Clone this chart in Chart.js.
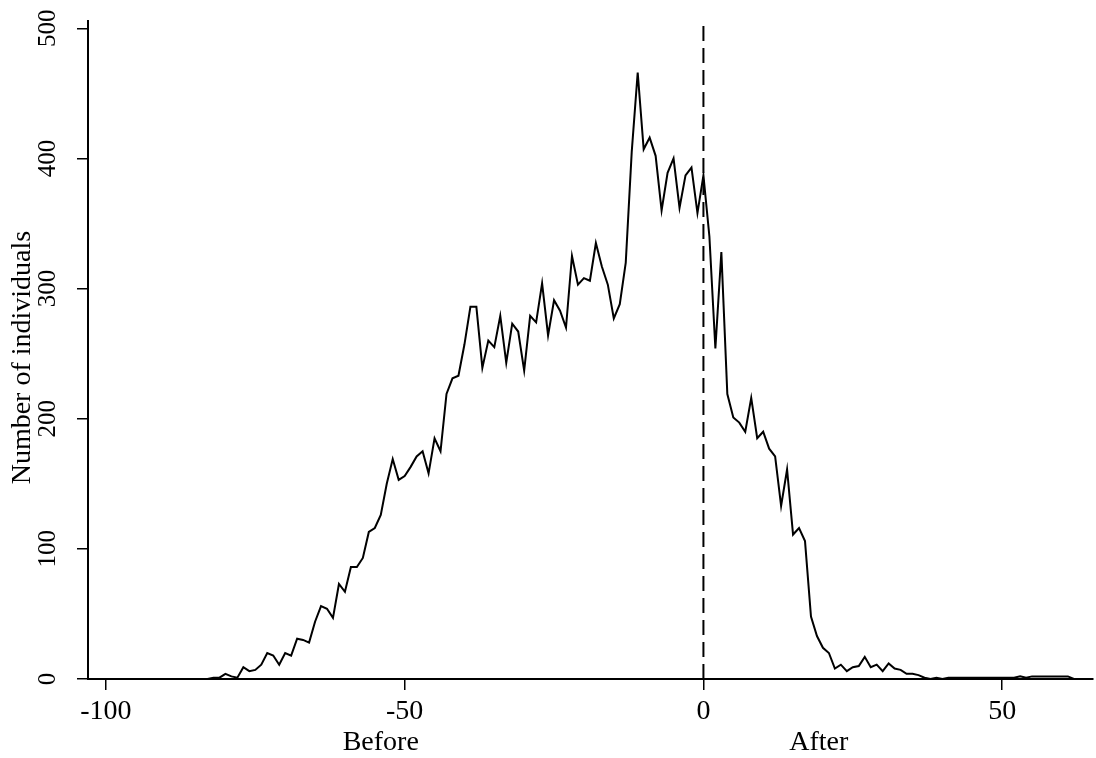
<!DOCTYPE html>
<html>
<head>
<meta charset="utf-8">
<script src="https://cdn.jsdelivr.net/npm/chart.js@4/dist/chart.umd.min.js"></script>
<style>
    html, body { margin: 0; padding: 0; background: #fff; }
    #wrap { width: 1096px; height: 758px; position: relative; }
</style>
</head>
<body>
<div id="wrap"><canvas id="countChart"></canvas></div>
<script>
// Days relative to the event
const days = [
    -95, -94, -93, -92, -91, -90, -89, -88, -87, -86,
    -85, -84, -83, -82, -81, -80, -79, -78, -77, -76,
    -75, -74, -73, -72, -71, -70, -69, -68, -67, -66,
    -65, -64, -63, -62, -61, -60, -59, -58, -57, -56,
    -55, -54, -53, -52, -51, -50, -49, -48, -47, -46,
    -45, -44, -43, -42, -41, -40, -39, -38, -37, -36,
    -35, -34, -33, -32, -31, -30, -29, -28, -27, -26,
    -25, -24, -23, -22, -21, -20, -19, -18, -17, -16,
    -15, -14, -13, -12, -11, -10, -9, -8, -7, -6,
    -5, -4, -3, -2, -1, 0, 1, 2, 3, 4,
    5, 6, 7, 8, 9, 10, 11, 12, 13, 14,
    15, 16, 17, 18, 19, 20, 21, 22, 23, 24,
    25, 26, 27, 28, 29, 30, 31, 32, 33, 34,
    35, 36, 37, 38, 39, 40, 41, 42, 43, 44,
    45, 46, 47, 48, 49, 50, 51, 52, 53, 54,
    55, 56, 57, 58, 59, 60, 61, 62
];

// Number of individuals per day
const counts = [
    0, 0, 0, 0, 0, 0, 0, 0, 0, 0,
    0, 0, 0, 1, 1, 4, 2, 1, 9, 6,
    7, 11, 20, 18, 11, 20, 18, 31, 30, 28,
    44, 56, 54, 47, 73, 67, 86, 86, 93, 113,
    116, 126, 150, 169, 153, 156, 163, 171, 175, 158,
    185, 175, 219, 231, 233, 257, 286, 286, 239, 260,
    255, 279, 243, 273, 267, 237, 279, 274, 304, 264,
    291, 283, 270, 325, 303, 308, 306, 335, 317, 303,
    277, 288, 320, 405, 466, 407, 416, 402, 360, 389,
    400, 362, 387, 393, 358, 387, 340, 254, 328, 219,
    201, 197, 190, 216, 185, 190, 177, 171, 133, 161,
    111, 116, 106, 48, 33, 24, 20, 8, 11, 6,
    9, 10, 17, 9, 11, 6, 12, 8, 7, 4,
    4, 3, 1, 0, 1, 0, 1, 1, 1, 1,
    1, 1, 1, 1, 1, 1, 1, 1, 2, 1,
    2, 2, 2, 2, 2, 2, 2, 0
];

const xTicks = [-100, -50, 0, 50];
const yTicks = [0, 100, 200, 300, 400, 500];
const refLineX = 0;
const periodLabels = ['Before', 'After'];
const periodCenters = [-54, 19.3];
const yTitle = 'Number of individuals';

const X_MIN = -103, X_MAX = 65.2;
const Y_MIN = 0, Y_MAX = 505.6;
const serif = "'Liberation Serif', 'Times New Roman', serif";

// Texte que o Chart.js não posiciona como no original
const extraText = {
    id: 'extraText',
    afterDraw(chart) {
        const { ctx, scales } = chart;
        const xs = scales.x, ys = scales.y;
        ctx.save();
        ctx.fillStyle = '#000';

        // y tick labels, rotated
        ctx.font = '25px ' + serif;
        ctx.textAlign = 'center';
        ctx.textBaseline = 'middle';
        yTicks.forEach(v => {
            ctx.save();
            ctx.translate(48, ys.getPixelForValue(v));
            ctx.rotate(-Math.PI / 2);
            ctx.fillText(String(v), 0, 0);
            ctx.restore();
        });

        // y title
        ctx.font = '28px ' + serif;
        ctx.save();
        ctx.translate(23, ys.getPixelForValue(247));
        ctx.rotate(-Math.PI / 2);
        ctx.fillText(yTitle, 0, 0);
        ctx.restore();

        // Before / After
        ctx.textBaseline = 'alphabetic';
        periodLabels.forEach((t, i) => {
            ctx.fillText(t, xs.getPixelForValue(periodCenters[i]), 750);
        });
        ctx.restore();
    }
};

const ctx = document.getElementById('countChart');
new Chart(ctx, {
    type: 'line',
    data: {
        datasets: [
            {
                label: 'Count',
                data: days.map((d, i) => ({ x: d, y: counts[i] })),
                borderColor: '#000',
                borderWidth: 2,
                pointRadius: 0,
                tension: 0,
                clip: false
            },
            {
                label: 'Event',
                data: [{ x: refLineX, y: Y_MIN }, { x: refLineX, y: Y_MAX }],
                borderColor: '#000',
                borderWidth: 2,
                borderDash: [15, 7],
                pointRadius: 0
            }
        ]
    },
    options: {
        responsive: true,
        maintainAspectRatio: false,
        animation: false,
        layout: { padding: { top: 21, right: 3, left: 0, bottom: 0 } },
        plugins: {
            legend: { display: false },
            tooltip: { enabled: false }
        },
        scales: {
            x: {
                type: 'linear',
                min: X_MIN,
                max: X_MAX,
                afterBuildTicks: s => { s.ticks = xTicks.map(v => ({ value: v })); },
                afterFit: s => { s.height = 79; },
                ticks: {
                    color: '#000',
                    padding: 5,
                    font: { family: serif, size: 28 },
                    callback: v => String(v)
                },
                grid: { drawOnChartArea: false, drawTicks: true, tickLength: 11, color: '#000', lineWidth: 1.5 },
                border: { display: true, color: '#000', width: 2 }
            },
            y: {
                min: Y_MIN,
                max: Y_MAX,
                afterBuildTicks: s => { s.ticks = yTicks.map(v => ({ value: v })); },
                afterFit: s => { s.width = 88; },
                ticks: { display: false },
                grid: { drawOnChartArea: false, drawTicks: true, tickLength: 11, color: '#000', lineWidth: 1.5 },
                border: { display: true, color: '#000', width: 2 }
            }
        }
    },
    plugins: [extraText]
});
</script>
</body>
</html>
